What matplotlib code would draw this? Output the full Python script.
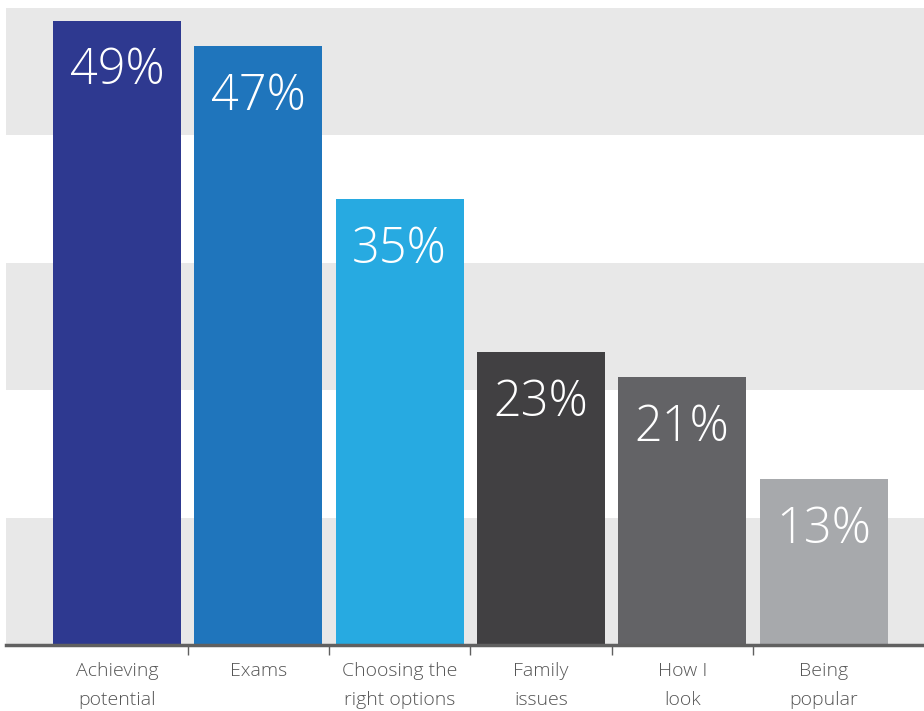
"""Bar chart: what young people worry about most."""

import matplotlib.pyplot as plt
import numpy as np

# --------------------------------------------------------------------------
# data
# --------------------------------------------------------------------------
categories = [
    "Achieving\npotential",
    "Exams",
    "Choosing the\nright options",
    "Family\nissues",
    "How I\nlook",
    "Being\npopular",
]
values = [49, 47, 35, 23, 21, 13]
bar_colors = ["#2E3990", "#1F75BC", "#27AAE1", "#414042", "#636366", "#A7A9AC"]

band_color = "#E8E8E8"
text_gray = "#555555"

plt.rcParams["font.family"] = ["Open Sans", "DejaVu Sans"]

fig = plt.figure(figsize=(9.24, 7.11), dpi=100)
ax = fig.add_axes([6 / 924, (711 - 645) / 711, 1 - 6 / 924, (645 - 8) / 711])

x = np.arange(len(values))
step = 141.3  # px between bar centres
ax.set_xlim(-111 / step, (924 - 117) / step)
ax.set_ylim(0, 50)

# alternating background bands every 10%
for i, lo in enumerate(range(0, 50, 10)):
    if i % 2 == 0:
        ax.axhspan(lo, lo + 10, color=band_color, lw=0, zorder=0)

ax.bar(x, values, width=128 / step, color=bar_colors, zorder=2)

# value labels inside the bars
for xi, v in zip(x, values):
    ax.annotate(
        f"{v}%", xy=(xi, v), xytext=(0, -36.5), textcoords="offset points",
        ha="center", va="center", color="white", fontsize=35, fontweight="light",
        zorder=3,
    )

# axes styling
for side in ["top", "right", "left"]:
    ax.spines[side].set_visible(False)
ax.spines["bottom"].set_color("#606060")
ax.spines["bottom"].set_linewidth(2.5)
ax.spines["bottom"].set_zorder(4)
ax.set_yticks([])

ax.set_xticks(x)
ax.set_xticklabels(categories, fontsize=14, color=text_gray, fontweight="light",
                   linespacing=1.75)
ax.tick_params(axis="x", which="major", length=0, pad=12.5)
ax.set_xticks(x[:-1] + 0.5, minor=True)
ax.tick_params(axis="x", which="minor", length=7, width=1, color="#606060")

fig.savefig("out.png", dpi=100)
